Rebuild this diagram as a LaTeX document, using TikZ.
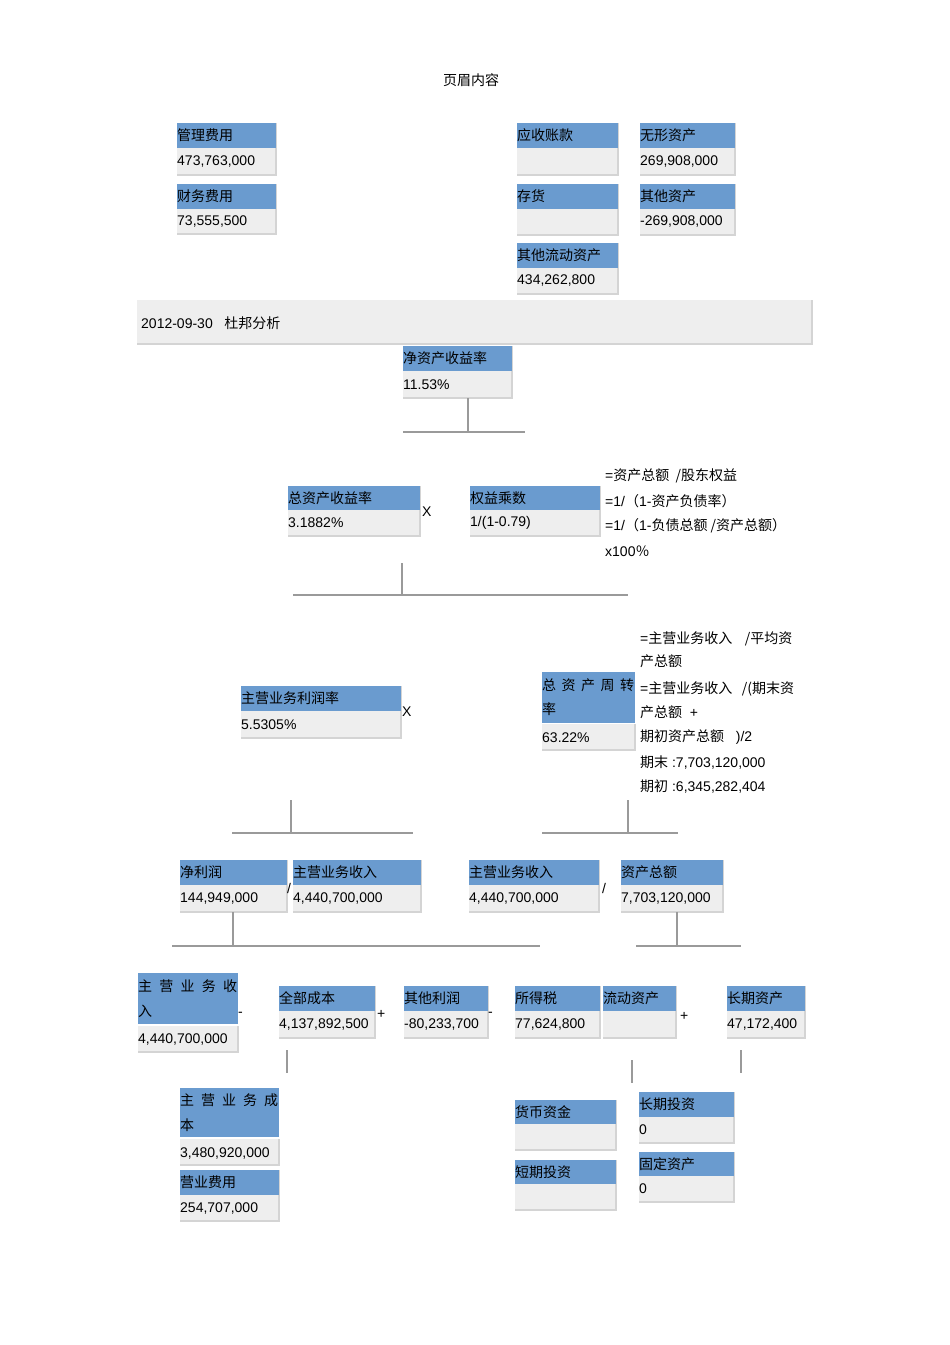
\documentclass[tikz,border=0pt]{standalone}
\usepackage{fontspec}
\setmainfont{Liberation Sans}
\newfontfamily\cjk{Noto Sans CJK SC}
\definecolor{hdr}{HTML}{6A9BCF}
\definecolor{val}{HTML}{EEEEEE}
\definecolor{shd}{HTML}{D4D4D4}
\definecolor{lin}{HTML}{9A9A9A}
\newcommand\dbox[8]{%
 \fill[val] (#2,#5) rectangle (#3,#6);
 \draw[shd,line width=1.5pt] (#3,#5) -- (#3,#6) -- (#2,#6);
 \fill[hdr] (#2,#4) rectangle (#3,#5);
 \draw[shd,line width=1pt] (#3,#4) -- (#3,#5);
 \node[txt] (#1h) at ({#2-1},{(#4+#5)/2}) {\cjk #7};
 \node[txt] (#1v) at ({#2-1},{(#5+#6)/2}) {#8};}
\begin{document}
\begin{tikzpicture}[x=1pt,y=-1pt,
 txt/.style={anchor=west,inner sep=1pt,font=\fontsize{14}{16}\selectfont},
 lbl/.style={anchor=west,inner sep=1pt,font=\fontsize{14}{16}\selectfont},
 conn/.style={lin,line width=1.2pt}]
\useasboundingbox (0,0) rectangle (950,1345);
\node[lbl,anchor=center] (head) at (471,80) {\cjk 页眉内容};
\dbox{a}{177}{276}{123}{148}{175}{管理费用}{473,763,000}
\dbox{b}{177}{276}{184}{209}{234}{财务费用}{73,555,500}
\dbox{c}{517}{618}{123}{148}{175}{应收账款}{}
\dbox{d}{640}{735}{123}{148}{175}{无形资产}{269,908,000}
\dbox{e}{517}{618}{184}{209}{235}{存货}{}
\dbox{f}{640}{735}{184}{209}{235}{其他资产}{-269,908,000}
\dbox{g}{517}{618}{243}{268}{294}{其他流动资产}{434,262,800}
\fill[val] (137,300) rectangle (812,344);
\draw[shd,line width=1.5pt] (812,300) -- (812,344) -- (137,344);
\node[lbl] (ban) at (140,323) {2012-09-30\ \ \ {\cjk 杜邦分析}};
\dbox{roe}{403}{512}{346}{371}{398}{净资产收益率}{11.53\%}
\coordinate (j1) at (468,432);
\draw[conn] (468,398) -- (j1); \draw[conn] (403,432) -- (525,432);
\dbox{roa}{288}{420}{486}{510}{536}{总资产收益率}{3.1882\%}
\node[lbl] (x1) at (421,512) {X};
\dbox{em}{470}{600}{486}{510}{536}{权益乘数}{1/(1-0.79)}
\node[lbl] (t1) at (604,476) {={\cjk 资产总额\ \ /股东权益}};
\node[lbl] (t2) at (604,501) {=1/{\cjk （}1-{\cjk 资产负债率）}};
\node[lbl] (t3) at (604,526) {=1/{\cjk （}1-{\cjk 负债总额\ /资产总额）}};
\node[lbl] (t4) at (604,551) {x100{\cjk ％}};
\draw[conn] (402,563) -- (402,595); \draw[conn] (293,595) -- (628,595);
\dbox{pm}{241}{401}{686}{711}{738}{主营业务利润率}{5.5305\%}
\node[lbl] (x2) at (401,712) {X};
\fill[val] (542,724) rectangle (635,750);
\draw[shd,line width=1.5pt] (635,724) -- (635,750) -- (542,750);
\fill[hdr] (542,672) rectangle (635,723);
\node[txt] (tath1) at (541,685) {\cjk\makebox[92pt][s]{总 资 产 周 转}};
\node[txt] (tath2) at (541,709) {\cjk 率};
\node[txt] (tatv) at (541,738) {63.22\%};
\node[lbl] (r1) at (639,639) {={\cjk 主营业务收入\ \ \ \ /平均资}};
\node[lbl] (r2) at (639,661) {\cjk 产总额};
\node[lbl] (r3) at (639,689) {={\cjk 主营业务收入\ \ \ /(期末资}};
\node[lbl] (r4) at (639,712) {{\cjk 产总额}\ \ +};
\node[lbl] (r5) at (639,737) {{\cjk 期初资产总额}\ \ \ )/2};
\node[lbl] (r6) at (639,763) {{\cjk 期末}\ :7,703,120,000};
\node[lbl] (r7) at (639,787) {{\cjk 期初}\ :6,345,282,404};
\draw[conn] (291,800) -- (291,833); \draw[conn] (232,833) -- (413,833);
\draw[conn] (628,800) -- (628,833); \draw[conn] (542,833) -- (678,833);
\dbox{np}{180}{287}{860}{885}{912}{净利润}{144,949,000}
\node[lbl] (s1) at (286,888) {/};
\dbox{rev1}{293}{421}{860}{885}{912}{主营业务收入}{4,440,700,000}
\dbox{rev2}{469}{599}{860}{885}{912}{主营业务收入}{4,440,700,000}
\node[lbl] (s2) at (601,888) {/};
\dbox{ta}{621}{723}{860}{885}{912}{资产总额}{7,703,120,000}
\draw[conn] (233,912) -- (233,946); \draw[conn] (172,946) -- (540,946);
\draw[conn] (677,912) -- (677,946); \draw[conn] (636,946) -- (741,946);
\fill[val] (138,1026) rectangle (238,1052);
\draw[shd,line width=1.5pt] (238,1026) -- (238,1052) -- (138,1052);
\fill[hdr] (138,973) rectangle (238,1024);
\node[txt] (rev3h1) at (137,986) {\cjk\makebox[99pt][s]{主 营 业 务 收}};
\node[txt] (rev3h2) at (137,1011) {\cjk 入};
\node[txt] (rev3v) at (137,1039) {4,440,700,000};
\node[lbl] (m1) at (237,1014) {-};
\dbox{cost}{279}{375}{986}{1011}{1038}{全部成本}{4,137,892,500}
\node[lbl] (p1) at (376,1014) {+};
\dbox{op}{404}{488}{986}{1011}{1038}{其他利润}{-80,233,700}
\node[lbl] (m2) at (487,1014) {-};
\dbox{tax}{515}{600}{986}{1011}{1038}{所得税}{77,624,800}
\dbox{ca}{603}{676}{986}{1011}{1038}{流动资产}{}
\node[lbl] (p2) at (679,1016) {+};
\dbox{la}{727}{805}{986}{1011}{1038}{长期资产}{47,172,400}
\draw[conn] (287,1050) -- (287,1073);
\draw[conn] (632,1060) -- (632,1083);
\draw[conn] (741,1050) -- (741,1073);
\fill[val] (180,1139) rectangle (279,1165);
\draw[shd,line width=1.5pt] (279,1139) -- (279,1165) -- (180,1165);
\fill[hdr] (180,1088) rectangle (279,1137);
\node[txt] (mbch1) at (179,1100) {\cjk\makebox[98pt][s]{主 营 业 务 成}};
\node[txt] (mbch2) at (179,1125) {\cjk 本};
\node[txt] (mbcv) at (179,1153) {3,480,920,000};
\dbox{sell}{180}{279}{1170}{1195}{1221}{营业费用}{254,707,000}
\dbox{cash}{515}{616}{1100}{1124}{1150}{货币资金}{}
\dbox{sti}{515}{616}{1160}{1184}{1210}{短期投资}{}
\dbox{lti}{639}{734}{1092}{1117}{1143}{长期投资}{0}
\dbox{fa}{639}{734}{1152}{1176}{1202}{固定资产}{0}
\end{tikzpicture}
\end{document}
